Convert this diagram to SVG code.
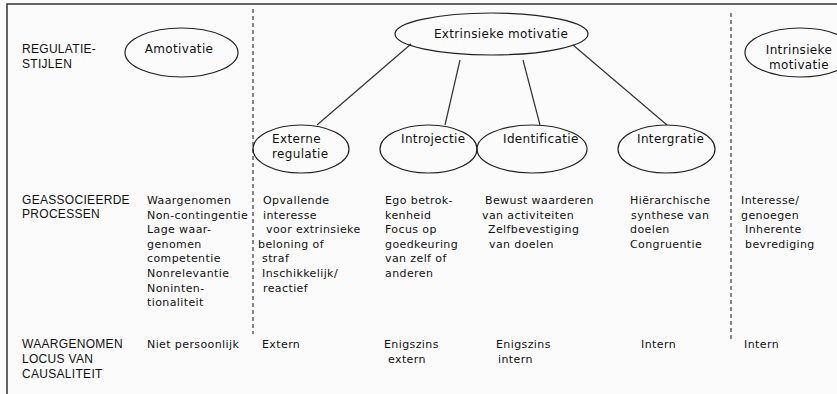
<svg xmlns="http://www.w3.org/2000/svg" width="837" height="394" viewBox="0 0 837 394">
<style>
.bg{fill:#fbfbfb}
.frame{fill:none;stroke:#333;stroke-width:1.5}
.div{fill:none;stroke:#111;stroke-width:1;stroke-dasharray:4 3}
.node{fill:none;stroke:#222;stroke-width:1.2}
.conn{fill:none;stroke:#333;stroke-width:1.2}
.lbl{font-family:"Liberation Sans",Arial,sans-serif;font-size:12px;fill:#111;letter-spacing:0.3px}
.t{font-family:"DejaVu Sans",Verdana,sans-serif;font-size:11px;fill:#111;letter-spacing:0.4px}
.et{font-family:"DejaVu Sans",Verdana,sans-serif;font-size:12px;fill:#111;letter-spacing:0.35px}
</style>
<rect class="bg" x="0" y="0" width="837" height="394"/>
<path class="frame" d="M7,394 V4 H837"/>
<g id="dividers">
<line class="div" x1="253" y1="9" x2="253" y2="334"/>
<line class="div" x1="731" y1="13" x2="731" y2="339"/>
</g>
<g id="connectors">
<line class="conn" x1="411" y1="44" x2="317" y2="125"/>
<line class="conn" x1="460" y1="60" x2="445" y2="125"/>
<line class="conn" x1="523" y1="60" x2="540" y2="125"/>
<line class="conn" x1="573" y1="45" x2="667" y2="125"/>
</g>
<g id="node-amotivatie">
<ellipse class="node" cx="181.5" cy="52.5" rx="56.5" ry="24.5"/>
<text class="et" x="179" y="53" text-anchor="middle">Amotivatie</text>
</g>
<g id="node-extrinsiek">
<ellipse class="node" cx="491.5" cy="34" rx="96.5" ry="21"/>
<text class="et" x="501" y="37.5" text-anchor="middle">Extrinsieke motivatie</text>
</g>
<g id="node-intrinsiek">
<ellipse class="node" cx="800" cy="52.5" rx="55" ry="24.5"/>
<text class="et" x="799" y="54" text-anchor="middle">Intrinsieke</text>
<text class="et" x="799" y="69" text-anchor="middle">motivatie</text>
</g>
<g id="node-externe">
<ellipse class="node" cx="301" cy="149" rx="48" ry="24"/>
<text class="et" x="272" y="143">Externe</text>
<text class="et" x="272" y="158">regulatie</text>
</g>
<g id="node-introjectie">
<ellipse class="node" cx="428.5" cy="149" rx="48.5" ry="24"/>
<text class="et" x="401" y="143">Introjectie</text>
</g>
<g id="node-identificatie">
<ellipse class="node" cx="532" cy="149" rx="55" ry="24"/>
<text class="et" x="503" y="143">Identificatie</text>
</g>
<g id="node-intergratie">
<ellipse class="node" cx="666.5" cy="149" rx="48.5" ry="24"/>
<text class="et" x="637" y="143">Intergratie</text>
</g>
<g id="row-labels">
<text class="lbl" x="22" y="53">REGULATIE-</text>
<text class="lbl" x="22" y="68">STIJLEN</text>
<text class="lbl" x="22" y="204">GEASSOCIEERDE</text>
<text class="lbl" x="22" y="218">PROCESSEN</text>
<text class="lbl" x="22" y="348">WAARGENOMEN</text>
<text class="lbl" x="22" y="363">LOCUS VAN</text>
<text class="lbl" x="22" y="378">CAUSALITEIT</text>
</g>
<g id="processes">
<text class="t" x="147" y="204">Waargenomen</text>
<text class="t" x="147" y="218.5">Non-contingentie</text>
<text class="t" x="147" y="233">Lage waar-</text>
<text class="t" x="147" y="247.7">genomen</text>
<text class="t" x="147" y="262.3">competentie</text>
<text class="t" x="147" y="277">Nonrelevantie</text>
<text class="t" x="147" y="291.7">Noninten-</text>
<text class="t" x="147" y="306.3">tionaliteit</text>

<text class="t" x="263" y="204">Opvallende</text>
<text class="t" x="263" y="218.5">interesse</text>
<text class="t" x="266" y="233">voor extrinsieke</text>
<text class="t" x="258" y="247.7">beloning of</text>
<text class="t" x="262" y="262.3">straf</text>
<text class="t" x="262" y="277">Inschikkelijk/</text>
<text class="t" x="263" y="291.7">reactief</text>

<text class="t" x="385" y="204">Ego betrok-</text>
<text class="t" x="385" y="218.5">kenheid</text>
<text class="t" x="385" y="233">Focus op</text>
<text class="t" x="385" y="247.7">goedkeuring</text>
<text class="t" x="385" y="262.3">van zelf of</text>
<text class="t" x="385" y="277">anderen</text>

<text class="t" x="485" y="204">Bewust waarderen</text>
<text class="t" x="482" y="218.5">van activiteiten</text>
<text class="t" x="488" y="233">Zelfbevestiging</text>
<text class="t" x="489" y="247.7">van doelen</text>

<text class="t" x="630" y="204">Hiërarchische</text>
<text class="t" x="631" y="218.5">synthese van</text>
<text class="t" x="630" y="233">doelen</text>
<text class="t" x="630" y="247.7">Congruentie</text>

<text class="t" x="741" y="204">Interesse/</text>
<text class="t" x="741" y="218.5">genoegen</text>
<text class="t" x="745" y="233">Inherente</text>
<text class="t" x="745" y="247.7">bevrediging</text>
</g>
<g id="locus">
<text class="t" x="147" y="348">Niet persoonlijk</text>
<text class="t" x="262" y="348">Extern</text>
<text class="t" x="384" y="348">Enigszins</text>
<text class="t" x="388" y="363">extern</text>
<text class="t" x="496" y="348">Enigszins</text>
<text class="t" x="498" y="363">intern</text>
<text class="t" x="641" y="348">Intern</text>
<text class="t" x="744" y="348">Intern</text>
</g>
</svg>
